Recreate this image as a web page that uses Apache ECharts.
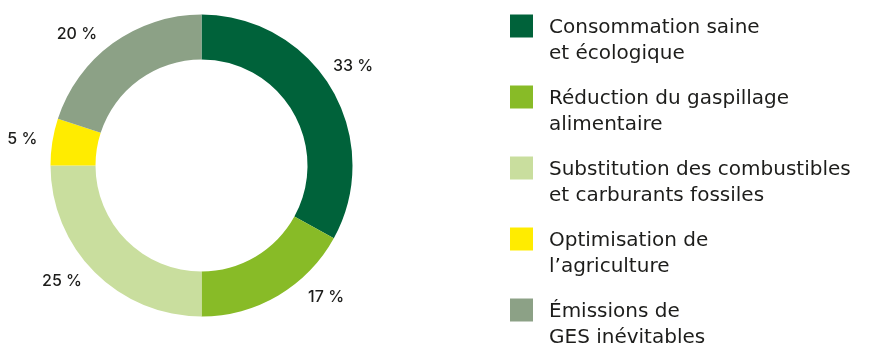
<!DOCTYPE html>
<html>
<head>
<meta charset="utf-8">
<script src="https://cdn.jsdelivr.net/npm/echarts@6/dist/echarts.min.js"></script>
<style>
  html, body { margin: 0; padding: 0; background: #ffffff; }
  #chart { width: 870px; height: 345px; }
</style>
</head>
<body>
<div id="chart"></div>
<script>
// Répartition des leviers (en %)
const categories = [
  'Consommation saine\net écologique',
  'Réduction du gaspillage\nalimentaire',
  'Substitution des combustibles\net carburants fossiles',
  'Optimisation de\nl\u2019agriculture',
  '\u00c9missions de\nGES inévitables'
];
const values = [33, 17, 25, 5, 20];
const colors = ['#00623a', '#88bb27', '#c9de9e', '#ffec00', '#8ca186'];

// small angular nudges (degrees) applied to each outside label
const labelAngleShift = [-2.5, -12.9, 5.4, -0.8, -7.5];

const CX = 201.5, CY = 165.5, R_IN = 106, R_OUT = 151, R_LABEL = 181;
const total = values.reduce((a, b) => a + b, 0);
const midAngles = [];
let acc = 0;
values.forEach(v => { midAngles.push((acc + v / 2) / total * 360); acc += v; });

const legendFont = { fontFamily: 'DejaVu Sans', fontSize: 20, fontWeight: 400, color: '#1d1d1b' };

const chart = echarts.init(document.getElementById('chart'), null, { renderer: 'canvas' });

chart.setOption({
  backgroundColor: '#ffffff',
  animation: false,
  color: colors,
  legend: {
    orient: 'vertical',
    left: 510,
    top: -10,
    height: 440,
    padding: 0,
    itemWidth: 23,
    itemHeight: 23,
    itemGap: -3,
    icon: 'rect',
    selectedMode: false,
    // a blank first line keeps the first text line level with the square
    formatter: name => '{sp|\u00a0}\n' + name.split('\n').map(l => '{t|' + l + '}').join('\n'),
    textStyle: Object.assign({ padding: [0, 0, 0, 11], rich: {
      sp: Object.assign({ lineHeight: 30 }, legendFont),
      t: Object.assign({ lineHeight: 26 }, legendFont)
    } }, legendFont),
    data: categories
  },
  series: [{
    type: 'pie',
    center: [CX, CY],
    radius: [R_IN, R_OUT],
    startAngle: 90,
    clockwise: true,
    avoidLabelOverlap: false,
    silent: true,
    itemStyle: { borderWidth: 0 },
    label: {
      show: true,
      position: 'outside',
      formatter: p => p.value + '\u00a0%',
      fontFamily: 'Inter',
      fontSize: 16,
      fontWeight: 500,
      color: '#1d1d1b'
    },
    labelLine: { show: false },
    labelLayout: function (params) {
      const i = params.dataIndex;
      const a = (midAngles[i] + labelAngleShift[i]) * Math.PI / 180;
      return {
        x: CX + R_LABEL * Math.sin(a),
        y: CY - R_LABEL * Math.cos(a),
        align: 'center',
        verticalAlign: 'middle'
      };
    },
    data: categories.map((name, i) => ({ name: name, value: values[i] }))
  }]
});
</script>
</body>
</html>
